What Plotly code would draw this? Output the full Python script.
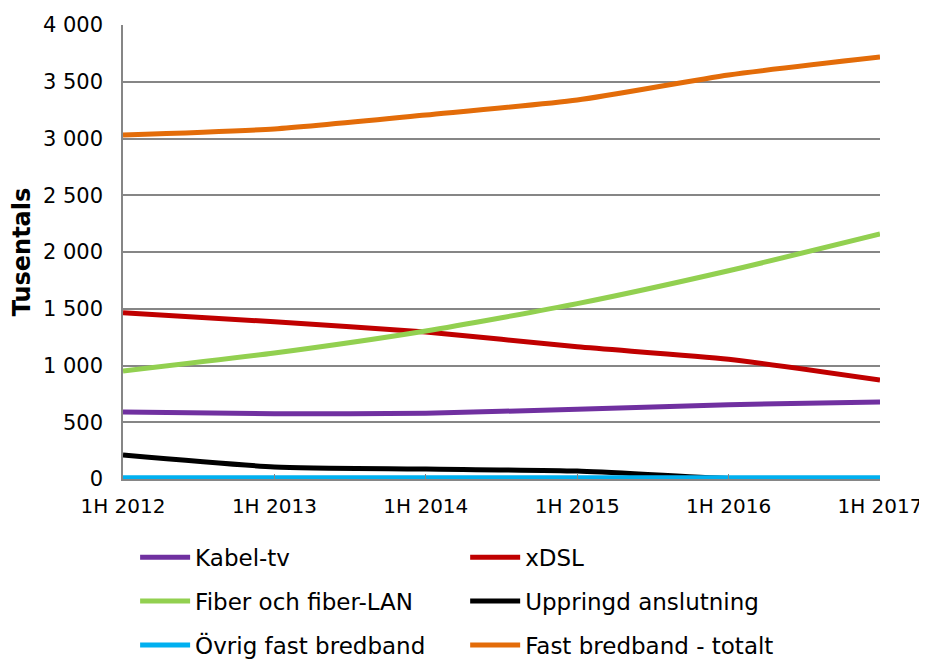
import plotly.graph_objects as go

categories = ["1H 2012", "1H 2013", "1H 2014", "1H 2015", "1H 2016", "1H 2017"]
kabel_tv = [590, 575, 580, 615, 655, 678]
xdsl = [1465, 1385, 1295, 1165, 1055, 872]
fiber = [951, 1110, 1304, 1545, 1835, 2159]
uppringd = [211, 106, 88, 70, 5, 3]
ovrig = [10, 10, 10, 10, 10, 10]
totalt = [3030, 3084, 3207, 3339, 3560, 3718]

series = [
    ("Kabel-tv", kabel_tv, "#7030A0", "legend"),
    ("xDSL", xdsl, "#C00000", "legend2"),
    ("Fiber och fiber-LAN", fiber, "#92D050", "legend"),
    ("Uppringd anslutning", uppringd, "#000000", "legend2"),
    ("Övrig fast bredband", ovrig, "#00B0F0", "legend"),
    ("Fast bredband - totalt", totalt, "#E36C09", "legend2"),
]

tick_vals = [0, 500, 1000, 1500, 2000, 2500, 3000, 3500, 4000]
tick_text = ["0", "500", "1 000", "1 500", "2 000", "2 500", "3 000", "3 500", "4 000"]

fig = go.Figure()
for i, (name, vals, color, leg) in enumerate(series):
    fig.add_trace(go.Scatter(
        x=categories, y=vals, name=name, mode="lines",
        line=dict(color=color, width=5, shape="spline", smoothing=0.6),
        legend=leg, legendgroup="g%d" % i,
    ))

font = "DejaVu Sans, Verdana, sans-serif"
leg_common = dict(
    orientation="v", yanchor="top", xanchor="left", y=-0.125,
    font=dict(family=font, size=23), tracegroupgap=11, itemwidth=50,
    bgcolor="rgba(0,0,0,0)",
)
fig.update_layout(
    width=919, height=654,
    margin=dict(l=115, r=47, t=17, b=183, autoexpand=False),
    plot_bgcolor="white", paper_bgcolor="white",
    font=dict(family=font, size=21, color="#000000"),
    showlegend=True,
    legend=dict(x=0.016, **leg_common),
    legend2=dict(x=0.452, **leg_common),
    xaxis=dict(
        type="category", range=[0, 5], showgrid=False, automargin=False,
        showline=True, linecolor="#868686", linewidth=1.5,
        ticks="inside", ticklen=5, tickcolor="#868686",
        tickfont=dict(size=20), zeroline=False, ticklabelstandoff=8,
    ),
    yaxis=dict(
        range=[0, 4000], tickvals=tick_vals, ticktext=tick_text, automargin=False,
        showgrid=True, gridcolor="#868686", gridwidth=1.5,
        showline=True, linecolor="#868686", linewidth=1.5,
        ticks="", tickfont=dict(size=21), zeroline=False, ticklabelstandoff=14,
        title=dict(text="<b>Tusentals</b>", font=dict(size=24), standoff=7),
    ),
)

fig.write_html("out.html")
